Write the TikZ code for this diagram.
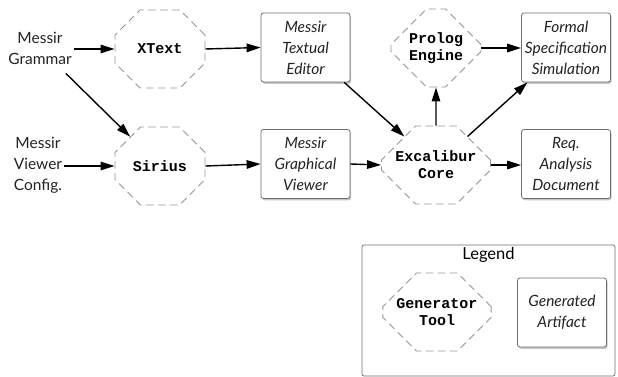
\documentclass[tikz,border=0pt]{standalone}
\usepackage{fontspec}
\setmainfont{Lato}
\setmonofont{Liberation Mono}
\usetikzlibrary{shapes.misc,shadows,arrows.meta}
\definecolor{octgray}{RGB}{150,150,150}
\definecolor{boxgray}{RGB}{110,110,110}
\definecolor{txt}{RGB}{35,35,35}
\tikzset{
  x=1pt,y=-1pt,
  tool/.style={chamfered rectangle, chamfered rectangle xsep=25pt, chamfered rectangle ysep=20pt,
    draw=octgray, line width=0.9pt, dash pattern=on 7pt off 5pt, line cap=round, minimum width=90pt, minimum height=78pt,
    inner sep=0pt, align=center, font=\ttfamily\bfseries\fontsize{15}{17}\selectfont, text=black},
  artifact/.style={rectangle, rounded corners=2.5pt, draw=boxgray, line width=0.8pt, fill=white,
    drop shadow={shadow xshift=1.2pt, shadow yshift=-1.8pt, opacity=0.45},
    minimum width=89pt, minimum height=69pt, inner sep=0pt, align=center,
    font=\itshape\fontsize{15.5}{21}\selectfont, text=txt},
  input/.style={align=center, font=\fontsize{15.5}{21}\selectfont, text=txt, inner sep=2pt},
  arr/.style={-{Triangle[length=14pt,width=8.5pt]}, line width=1.4pt, black},
}
\begin{document}
\begin{tikzpicture}
\useasboundingbox (0,0) rectangle (618,377);
% inputs
\node[input] (gram) at (40,48) {Messir\\Grammar};
\node[input] (viewcfg) at (38,165) {Messir\\Viewer\\Config.};
% tools
\node[tool] (xtext) at (160,49) {XText};
\node[tool] (sirius) at (160,166) {Sirius};
\node[tool] (prolog) at (436,48) {Prolog\\Engine};
\node[tool] (excal) at (436,165) {Excalibur\\Core};
% artifacts
\node[artifact] (editor) at (305.5,47.5) {Messir\\Textual\\Editor};
\node[artifact] (viewer) at (305.5,164) {Messir\\Graphical\\Viewer};
\node[artifact] (formal) at (566,47.5) {Formal\\Specification\\Simulation};
\node[artifact] (req) at (566,164) {Req.\\Analysis\\Document};
% arrows
\draw[arr] (gram.east |- xtext.west) -- (xtext.west);
\draw[arr] (xtext.east) -- (editor.west);
\draw[arr, shorten <=10pt] (gram) -- (sirius);
\draw[arr] (viewcfg.east |- sirius.west) -- (sirius.west);
\draw[arr] (sirius.east) -- (viewer.west);
\draw[arr] (editor) -- (excal);
\draw[arr] (viewer.east) -- (excal.west);
\draw[arr] (excal) -- (prolog);
\draw[arr] (excal) -- (formal);
\draw[arr] (prolog.east) -- (formal.west |- prolog.east);
\draw[arr] (excal.east) -- (req.west |- excal.east);
% legend
\node[draw=boxgray, line width=0.7pt, rounded corners=2pt, minimum width=253pt, minimum height=131pt, inner sep=0pt] (legend) at (488.5,310.5) {};
\node[font=\fontsize{16.5}{18}\selectfont, text=black, anchor=north, inner sep=0pt] (legtitle) at (488.5,247) {Legend};
\node[tool] (gen) at (437,312) {Generator\\Tool};
\node[artifact] (genart) at (562,312.5) {Generated\\Artifact};
\end{tikzpicture}
\end{document}
